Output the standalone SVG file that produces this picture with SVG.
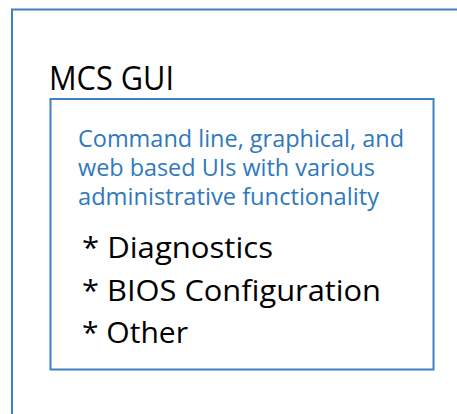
<svg xmlns="http://www.w3.org/2000/svg" width="457" height="414" viewBox="0 0 457 414">
<style>
.box{fill:#fff;stroke:#3f80c2;stroke-width:2}
.t{font-family:"Open Sans","Noto Sans","Liberation Sans",sans-serif}
.title{font-size:32px;fill:#000}
.desc{font-size:23px;fill:#2f78bd}
.item{font-size:30px;fill:#000}
</style>
<rect width="457" height="414" fill="#fff"/>
<g id="outer">
<rect class="box" x="12" y="9.5" width="460" height="420"/>
<text class="t title" x="49" y="90" textLength="125" lengthAdjust="spacingAndGlyphs">MCS GUI</text>
</g>
<g id="inner">
<rect class="box" x="50.5" y="99" width="383" height="270.5"/>
<text class="t desc" x="78" y="147" textLength="326" lengthAdjust="spacingAndGlyphs">Command line, graphical, and</text>
<text class="t desc" x="78" y="176" textLength="297" lengthAdjust="spacingAndGlyphs">web based UIs with various</text>
<text class="t desc" x="78" y="205" textLength="301" lengthAdjust="spacingAndGlyphs">administrative functionality</text>
<text class="t item" x="82" y="258" textLength="191" lengthAdjust="spacingAndGlyphs">* Diagnostics</text>
<text class="t item" x="82" y="301" textLength="299" lengthAdjust="spacingAndGlyphs">* BIOS Configuration</text>
<text class="t item" x="82" y="343" textLength="106" lengthAdjust="spacingAndGlyphs">* Other</text>
</g>
<g id="connectors"/>
</svg>
